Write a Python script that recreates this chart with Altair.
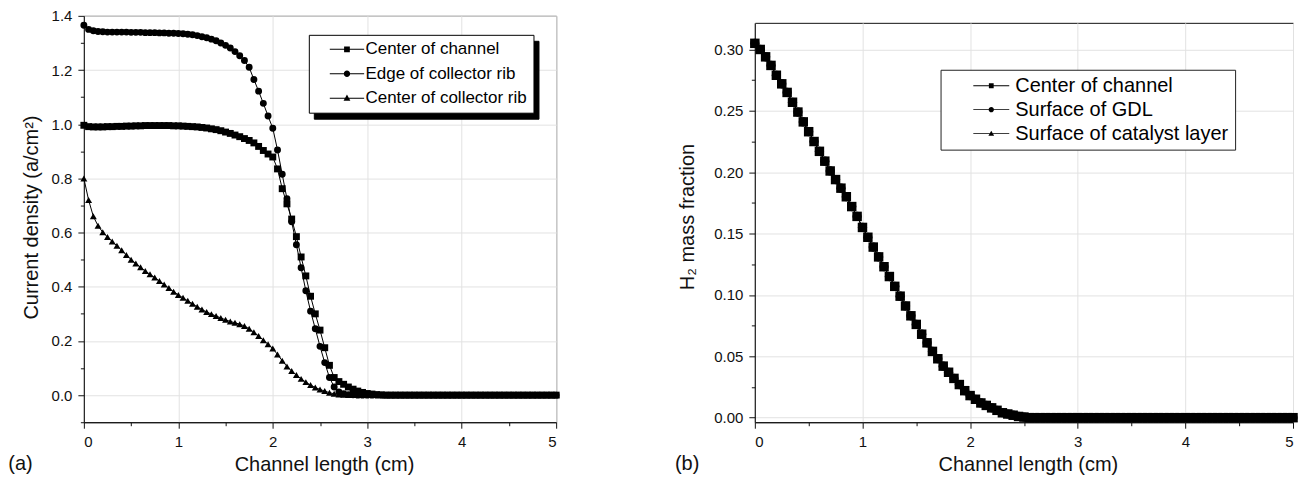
import altair as alt
import pandas as pd

FONT = "Liberation Sans"

# ---------------- data ----------------
x_cm = [round(0.05 * i, 2) for i in range(101)]

series_a = ["Center of channel", "Edge of collector rib", "Center of collector rib"]
series_b = ["Center of channel", "Surface of GDL", "Surface of catalyst layer"]

cd_center_channel = [0.996, 0.991, 0.990, 0.990, 0.990, 0.991, 0.991, 0.992, 0.992, 0.993,
                     0.993, 0.994, 0.994, 0.995, 0.995, 0.995, 0.995, 0.995, 0.995, 0.994,
                     0.994, 0.993, 0.992, 0.991, 0.990, 0.988, 0.986, 0.983, 0.980, 0.976,
                     0.971, 0.966, 0.960, 0.954, 0.947, 0.940, 0.931, 0.918, 0.903, 0.890,
                     0.879, 0.835, 0.762, 0.706, 0.650, 0.585, 0.510, 0.440, 0.365, 0.300,
                     0.240, 0.175, 0.110, 0.065, 0.050, 0.040, 0.030, 0.022, 0.015, 0.010,
                     0.006, 0.004, 0.002, 0.001] + [0.0] * 37

cd_edge_rib = [1.365, 1.350, 1.345, 1.342, 1.341, 1.340, 1.340, 1.340, 1.340, 1.340,
               1.339, 1.339, 1.339, 1.338, 1.338, 1.338, 1.337, 1.337, 1.336, 1.336,
               1.335, 1.334, 1.332, 1.330, 1.327, 1.323, 1.319, 1.314, 1.308, 1.300,
               1.291, 1.281, 1.268, 1.253, 1.235, 1.210, 1.165, 1.122, 1.077, 1.030,
               0.985, 0.905, 0.815, 0.725, 0.640, 0.555, 0.470, 0.385, 0.310, 0.245,
               0.180, 0.120, 0.065, 0.030, 0.012, 0.005, 0.002, 0.001] + [0.0] * 43

cd_center_rib = [0.800, 0.720, 0.660, 0.625, 0.601, 0.584, 0.567, 0.551, 0.535, 0.517,
                 0.500, 0.486, 0.472, 0.458, 0.446, 0.434, 0.421, 0.408, 0.395, 0.382,
                 0.370, 0.359, 0.348, 0.337, 0.326, 0.316, 0.307, 0.299, 0.292, 0.285,
                 0.278, 0.272, 0.267, 0.262, 0.255, 0.245, 0.232, 0.218, 0.203, 0.188,
                 0.172, 0.150, 0.127, 0.106, 0.089, 0.074, 0.060, 0.048, 0.037, 0.028,
                 0.021, 0.015, 0.009, 0.005, 0.002, 0.001] + [0.0] * 45

h2_center_channel = [0.305, 0.300, 0.294, 0.287, 0.279, 0.272, 0.265, 0.257, 0.249, 0.241,
                     0.233, 0.225, 0.217, 0.209, 0.201, 0.194, 0.187, 0.180, 0.172, 0.164,
                     0.155, 0.147, 0.139, 0.131, 0.123, 0.115, 0.107, 0.099, 0.091, 0.083,
                     0.076, 0.068, 0.061, 0.054, 0.048, 0.042, 0.037, 0.032, 0.027, 0.022,
                     0.018, 0.015, 0.012, 0.010, 0.008, 0.006, 0.004, 0.003, 0.002, 0.001,
                     0.0005] + [0.0] * 50
h2_surface_gdl = list(h2_center_channel)        # curves coincide in the figure
h2_surface_catalyst = list(h2_center_channel)

x_ticks = [0, 0.5, 1, 1.5, 2, 2.5, 3, 3.5, 4, 4.5, 5]
y_a_ticks = [-0.1, 0.0, 0.1, 0.2, 0.3, 0.4, 0.5, 0.6, 0.7, 0.8, 0.9, 1.0, 1.1, 1.2, 1.3, 1.4]
y_b_ticks = [0.0, 0.025, 0.05, 0.075, 0.1, 0.125, 0.15, 0.175, 0.2, 0.225, 0.25, 0.275, 0.3]

panel_a_label = "(a)"
panel_b_label = "(b)"

# ---------------- tables ----------------
def long_table(names, columns):
    rows = []
    for name, vals in zip(names, columns):
        for xv, yv in zip(x_cm, vals):
            rows.append({"x": xv, "y": yv, "series": name})
    return pd.DataFrame(rows)

df_a = long_table(series_a, [cd_center_channel, cd_edge_rib, cd_center_rib])
df_b = long_table(series_b, [h2_center_channel, h2_surface_gdl, h2_surface_catalyst])

# ---------------- layout ----------------
W1, H1 = 473, 407
W2, H2 = 539, 400
XD = [0, 5]
YA = [-0.1, 1.4]
YB = [-0.0037, 0.3217]

X_MAJOR = "abs(datum.value - round(datum.value)) < 0.001"
YA_MAJOR = "abs(datum.value * 5 - round(datum.value * 5)) < 0.01"
YB_MAJOR = "abs(datum.value * 20 - round(datum.value * 20)) < 0.01"
TITLE_SIZE = 20


def tick_common(test, title_size=TITLE_SIZE):
    return dict(
        tickSize={"condition": {"test": test, "value": 6}, "value": 3.5},
        gridOpacity={"condition": {"test": test, "value": 1}, "value": 0},
        gridColor="#e2e2e2",
        labelOverlap=False,
        labelFont=FONT, labelFontSize=15, labelColor="#111",
        titleFont=FONT, titleFontWeight="normal", titleColor="#111",
        titleFontSize=title_size,
        domainColor="#111", tickColor="#111",
    )


def x_axis(width):
    return alt.Axis(values=x_ticks, title="Channel length (cm)",
                    labelExpr=f"{X_MAJOR} ? format(datum.value, 'd') : ''",
                    labelPadding=6,
                    titleX=width / 2 + 4, titleY=42, titleBaseline="middle",
                    **tick_common(X_MAJOR, 20))


# legend symbol paths ("—■—": thin filled bar + marker), unit = sqrt(size)/2 px
sym_a = ["M-4.3,-0.12H4.3V0.12H-4.3ZM-0.72,-0.72H0.72V0.72H-0.72Z",
         "M-4.3,-0.12H4.3V0.12H-4.3ZM0.8,0A0.8,0.8,0,1,1,-0.8,0A0.8,0.8,0,1,1,0.8,0Z",
         "M-4.3,-0.12H4.3V0.12H-4.3ZM0,-0.9L0.85,0.62H-0.85Z"]
sym_b = ["M-4.5,-0.11H4.5V0.11H-4.5ZM-0.6,-0.6H0.6V0.6H-0.6Z",
         "M-4.5,-0.1H4.5V0.1H-4.5ZM0.66,0A0.66,0.66,0,1,1,-0.66,0A0.66,0.66,0,1,1,0.66,0Z",
         "M-4.5,-0.1H4.5V0.1H-4.5ZM0,-0.75L0.72,0.55H-0.72Z"]

# ---------------- panel (a) ----------------
xa = alt.X("x:Q", scale=alt.Scale(domain=XD, nice=False), axis=x_axis(W1))
ya = alt.Y("y:Q", scale=alt.Scale(domain=YA, nice=False, zero=False),
           axis=alt.Axis(values=y_a_ticks, title="Current density (a/cm²)",
                         labelExpr=f"{YA_MAJOR} ? format(datum.value, '.1f') : ''",
                         labelPadding=6,
                         titleX=-52.7, titleY=H1 / 2 - 2, titleBaseline="middle",
                         **tick_common(YA_MAJOR)))

lines_a = alt.Chart(df_a).mark_line(color="black", strokeWidth=1).encode(
    x=xa, y=ya, detail="series:N")
points_a = alt.Chart(df_a).mark_point(filled=True, color="black", opacity=1).encode(
    x=xa, y=ya,
    shape=alt.Shape("series:N", scale=alt.Scale(domain=series_a,
                                                range=["square", "circle", "triangle-up"]),
                    legend=None),
    size=alt.Size("series:N", scale=alt.Scale(domain=series_a, range=[48, 48, 68]),
                  legend=None))

leg_a = pd.DataFrame({"series": series_a, "series_s": series_a, "x": [2.5] * 3, "y": [99.0] * 3})
LAX, LAY = 225.3, 19
legend_common_a = dict(title=None, orient="none", padding=6, rowPadding=6.5, symbolSize=64,
                       labelFont=FONT, labelFontSize=17, labelColor="black",
                       symbolOffset=23.7, labelOffset=10, labelLimit=400,
                       labelExpr="datum.label + ' '",
                       symbolOpacity=1, symbolStrokeWidth=0, symbolStrokeColor="black",
                       symbolFillColor="black")
shadow_props = dict(legend_common_a)
shadow_props["labelOpacity"] = 0
shadow_props["symbolOpacity"] = 0
shadow_a = alt.Chart(leg_a).mark_point(filled=True, opacity=1, size=64, clip=True).encode(
    x=xa, y=ya,
    color=alt.Color("series_s:N",
                    scale=alt.Scale(domain=series_a, range=["black", "black", "black"]),
                    legend=alt.Legend(legendX=LAX + 5, legendY=LAY + 6, fillColor="black",
                                      strokeColor="black", symbolType=sym_a[0], zindex=0,
                                      **shadow_props)))
legend_a = alt.Chart(leg_a).mark_point(filled=True, color="black", opacity=1, size=64,
                                       clip=True).encode(
    x=xa, y=ya,
    shape=alt.Shape("series:N", scale=alt.Scale(domain=series_a, range=sym_a),
                    legend=alt.Legend(legendX=LAX, legendY=LAY, fillColor="white",
                                      strokeColor="black", zindex=1, **legend_common_a)))
label_a = alt.Chart(pd.DataFrame({"t": [panel_a_label]})).mark_text(
    align="left", baseline="middle", font=FONT, fontSize=20, color="#111").encode(
    x=alt.value(-75.7), y=alt.value(449), text="t:N")

panel_a = alt.layer(lines_a, points_a, shadow_a, legend_a, label_a).resolve_scale(
    shape="independent", color="independent", size="independent").resolve_legend(
    shape="independent", color="independent", size="independent").properties(
    width=W1, height=H1)

# ---------------- panel (b) ----------------
xb = alt.X("x:Q", scale=alt.Scale(domain=XD, nice=False), axis=x_axis(W2))
yb = alt.Y("y:Q", scale=alt.Scale(domain=YB, nice=False, zero=False),
           axis=alt.Axis(values=y_b_ticks, title="H₂ mass fraction",
                         labelExpr=f"{YB_MAJOR} ? format(datum.value, '.2f') : ''",
                         labelPadding=6,
                         titleX=-67, titleY=194, titleBaseline="middle",
                         **tick_common(YB_MAJOR)))

lines_b = alt.Chart(df_b).mark_line(color="black", strokeWidth=1).encode(
    x=xb, y=yb, detail="series:N")
points_b = alt.Chart(df_b).mark_point(filled=True, color="black", opacity=1).encode(
    x=xb, y=yb,
    shape=alt.Shape("series:N", scale=alt.Scale(domain=series_b,
                                                range=["square", "circle", "triangle-up"]),
                    legend=None),
    size=alt.Size("series:N", scale=alt.Scale(domain=series_b, range=[90, 80, 100]),
                  legend=None))
leg_b = pd.DataFrame({"series": series_b, "x": [2.5] * 3, "y": [99.0] * 3})
legend_b = alt.Chart(leg_b).mark_point(filled=True, color="black", opacity=1, size=64,
                                       clip=True).encode(
    x=xb, y=yb,
    shape=alt.Shape("series:N", scale=alt.Scale(domain=series_b, range=sym_b),
                    legend=alt.Legend(title=None, orient="none", legendX=186, legendY=47,
                                      fillColor="white", strokeColor="#222", padding=6,
                                      rowPadding=4, symbolSize=64, labelFont=FONT,
                                      labelFontSize=20, labelColor="black",
                                      symbolOffset=34.8, labelOffset=14,
                                      labelLimit=400, labelExpr="datum.label + '  '",
                                      symbolOpacity=1, symbolStrokeWidth=0,
                                      symbolFillColor="black")))
label_b = alt.Chart(pd.DataFrame({"t": [panel_b_label]})).mark_text(
    align="left", baseline="middle", font=FONT, fontSize=20, color="#111").encode(
    x=alt.value(-80), y=alt.value(442), text="t:N")

panel_b = alt.layer(lines_b, points_b, legend_b, label_b).resolve_scale(
    shape="independent", size="independent").resolve_legend(
    shape="independent", size="independent").properties(width=W2, height=H2)

spacer = alt.Chart(pd.DataFrame({"sx": [0], "sy": [0]})).mark_point(opacity=0).encode(
    x=alt.X("sx:Q", axis=None), y=alt.Y("sy:Q", axis=None)).properties(
    width=W2, height=7, view=alt.ViewBackground(stroke=None))

right_col = alt.vconcat(spacer, panel_b, spacing=0, bounds="flush").resolve_scale(
    shape="independent", color="independent", size="independent",
    x="independent", y="independent").resolve_legend(
    shape="independent", color="independent", size="independent")

chart = alt.hconcat(panel_a, right_col, spacing=199, bounds="flush").resolve_scale(
    shape="independent", color="independent", size="independent",
    x="independent", y="independent").resolve_legend(
    shape="independent", color="independent", size="independent").properties(
    padding={"left": 7, "top": 7.5, "right": 4, "bottom": 5}
).configure(font=FONT).configure_view(stroke="#111", strokeWidth=1)

chart.save("out.html", embed_options={"renderer": "svg", "actions": False})
